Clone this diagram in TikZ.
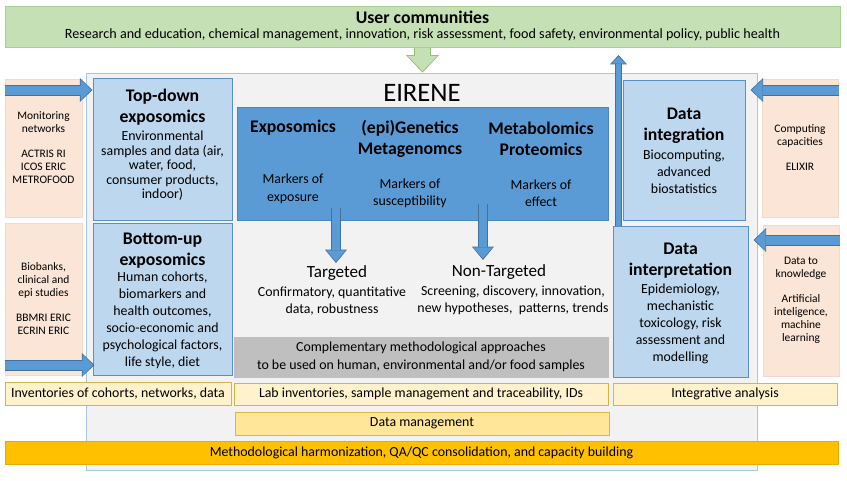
\documentclass[tikz,border=0pt]{standalone}
\usepackage{fontspec}
\setmainfont{Carlito}
\usetikzlibrary{fit,arrows.meta,calc}
\definecolor{ugreen}{HTML}{C5E0B4}
\definecolor{ugreenD}{HTML}{A9D18E}
\definecolor{ugreenA}{HTML}{8FBF72}
\definecolor{peach}{HTML}{FBE5D6}
\definecolor{peachD}{HTML}{F1DACB}
\definecolor{lblue}{HTML}{BDD7EE}
\definecolor{lblueD}{HTML}{5B8FC9}
\definecolor{mblue}{HTML}{5B9BD5}
\definecolor{mblueD}{HTML}{4A86C2}
\definecolor{arrowD}{HTML}{41719C}
\definecolor{egray}{HTML}{F2F2F2}
\definecolor{eborder}{HTML}{A6C6E6}
\definecolor{cgray}{HTML}{BFBFBF}
\definecolor{ylight}{HTML}{FFF2CC}
\definecolor{ymid}{HTML}{FFE699}
\definecolor{yborder}{HTML}{D9B440}
\definecolor{qaorange}{HTML}{FFC000}
\definecolor{qaorangeD}{HTML}{E6AC00}
\newcommand\fsS{\fontsize{8.6}{9.75}\selectfont}
\newcommand\fsB{\fontsize{10.4}{12.75}\selectfont}
\newcommand\fsT{\fontsize{10.4}{10.9}\selectfont}
\newcommand\fsH{\fontsize{13.3}{15.75}\bfseries\selectfont}
\begin{document}
\begin{tikzpicture}[x=0.75pt,y=-0.75pt,
  box/.style={inner sep=0pt, line width=0.75pt},
  users/.style={box, fill=ugreen, draw=ugreenD},
  ebox/.style={box, fill=egray, draw=eborder},
  peachbox/.style={box, fill=peach, draw=peachD},
  lbox/.style={box, fill=lblue, draw=lblueD},
  dbox/.style={box, fill=mblue, draw=mblueD},
  gbox/.style={box, fill=cgray, draw=cgray},
  ybox/.style={box, fill=ylight, draw=yborder},
  ymbox/.style={box, fill=ymid, draw=yborder},
  obox/.style={box, fill=qaorange, draw=qaorangeD},
  txt/.style={inner sep=0pt, align=center},
  stxt/.style={txt, font=\fsS},
  btxt/.style={txt, font=\fsB},
  harrow/.style={draw=arrowD, line width=8.25pt,
    -{Triangle[width=18pt,length=9.5pt,line width=0pt]},
    postaction={draw=mblue, line width=6.75pt, shorten >=1.1pt,
      -{Triangle[width=15.75pt,length=7.9pt,line width=0pt]}}},
  uarrow/.style={draw=arrowD, line width=5.25pt,
    -{Triangle[width=12.75pt,length=7pt,line width=0pt]},
    postaction={draw=mblue, line width=3.75pt, shorten >=1.1pt,
      -{Triangle[width=10.5pt,length=5.4pt,line width=0pt]}}},
  darrow/.style={draw=arrowD, line width=7.5pt,
    -{Triangle[width=16.5pt,length=10pt,line width=0pt]},
    postaction={draw=mblue, line width=6pt, shorten >=1.1pt,
      -{Triangle[width=14.25pt,length=8.3pt,line width=0pt]}}},
  garrow/.style={draw=ugreenA, line width=12.75pt,
    -{Triangle[width=24.75pt,length=13pt,line width=0pt]},
    postaction={draw=ugreen, line width=11.25pt, shorten >=1.1pt,
      -{Triangle[width=22.5pt,length=11.4pt,line width=0pt]}}}
]
\useasboundingbox (0,0) rectangle (847,480);
\fill[white] (0,0) rectangle (847,480);

% user communities
\node[users, fit={(5,6)(840,47)}] (users) {};
\node[txt, font=\fsH] (usersT) at (422.5,17) {User communities};
\node[txt, font=\fontsize{10.6}{12.75}\selectfont] (usersS) at (422.5,35) {Research and education, chemical management, innovation, risk assessment, food safety, environmental policy, public health};

% EIRENE frame
\node[ebox, fit={(86,73)(757,470)}] (eirene) {};
\node[txt, font=\fontsize{20}{24}\selectfont] (eireneT) at (422,93) {EIRENE};

% side boxes
\node[peachbox, fit={(5,79)(82,217)}] (lp1) {};
\node[stxt] (lp1T) at (lp1) {Monitoring\\networks\\[9pt]ACTRIS RI\\ICOS ERIC\\METROFOOD};
\node[peachbox, fit={(5,223)(82,375)}] (lp2) {};
\node[stxt] (lp2T) at (lp2) {Biobanks,\\clinical and\\epi studies\\[9pt]BBMRI ERIC\\ECRIN ERIC};
\node[peachbox, fit={(762,79)(838,217)}] (rp1) {};
\node[stxt] (rp1T) at (rp1) {Computing\\capacities\\[9pt]ELIXIR};
\node[peachbox, fit={(763,225)(839,376)}] (rp2) {};
\node[stxt] (rp2T) at (rp2) {Data to\\knowledge\\[9pt]Artificial\\inteligence,\\machine\\learning};

% top-down / bottom-up
\node[lbox, fit={(93,78)(232,220)}] (td) {};
\node[txt, font=\fsH] (tdT) at (162.5,107.5) {Top-down\\exposomics};
\node[txt, font=\fsT] (tdB) at (162.5,166) {Environmental\\samples and data (air,\\water, food,\\consumer products,\\indoor)};
\node[lbox, fit={(93,223)(232,375)}] (bu) {};
\node[txt, font=\fsH] (buT) at (162.5,250.5) {Bottom-up\\exposomics};
\node[btxt] (buB) at (162.5,320.5) {Human cohorts,\\biomarkers and\\health outcomes,\\socio-economic and\\psychological factors,\\life style, diet};

% omics box
\node[dbox, fit={(237,107)(608,220)}] (omics) {};
\node[txt, font=\fsH] (o1T) at (293,128) {Exposomics};
\node[txt, font=\fsH] (o2T) at (410,138.5) {(epi)Genetics\\Metagenomcs};
\node[txt, font=\fsH] (o3T) at (541,138.5) {Metabolomics\\Proteomics};
\node[txt, font=\fontsize{10.4}{13.5}\selectfont] (o1B) at (293,189) {Markers of\\exposure};
\node[btxt] (o2B) at (410,193.5) {Markers of\\susceptibility};
\node[btxt] (o3B) at (541,193.5) {Markers of\\effect};

% targeted / non-targeted
\node[txt, font=\fontsize{12.8}{15}\selectfont] (tgt) at (337,273) {Targeted};
\node[btxt] (tgtB) at (332,301.5) {Confirmatory, quantitative\\data, robustness};
\node[txt, font=\fontsize{12.8}{15}\selectfont] (ntg) at (499,272) {Non-Targeted};
\node[btxt] (ntgB) at (513,300.5) {Screening, discovery, innovation,\\new hypotheses, \ patterns, trends};

% complementary
\node[gbox, fit={(234,337)(608,377)}] (comp) {};
\node[txt, font=\fontsize{10.4}{13.5}\selectfont] (compT) at (comp) {Complementary methodological approaches\\to be used on human, environmental and/or food samples};

% data integration / interpretation
\node[lbox, fit={(623,80)(745,220)}] (di) {};
\node[txt, font=\fsH] (diT) at (684,125.5) {Data\\integration};
\node[btxt] (diB) at (684,172) {Biocomputing,\\advanced\\biostatistics};
\node[lbox, fit={(613,226)(748,377)}] (dp) {};
\node[txt, font=\fsH] (dpT) at (680.5,260.5) {Data\\interpretation};
\node[btxt] (dpB) at (680.5,324) {Epidemiology,\\mechanistic\\toxicology, risk\\assessment and\\modelling};

% bottom bars
\node[ybox, fit={(5,382)(231,405)}] (inv) {};
\node[btxt] (invT) at (inv) {Inventories of cohorts, networks, data};
\node[ybox, fit={(234,383)(608,405)}] (lab) {};
\node[btxt] (labT) at (lab) {Lab inventories, sample management and traceability, IDs};
\node[ybox, fit={(613,383)(837,405)}] (integ) {};
\node[btxt] (integT) at (integ) {Integrative analysis};
\node[ymbox, fit={(235,412)(609,435)}] (dm) {};
\node[btxt] (dmT) at (dm) {Data management};
\node[obox, fit={(5,441)(838,464)}] (qa) {};
\node[btxt] (qaT) at (qa) {Methodological harmonization, QA/QC consolidation, and capacity building};

% arrows
\draw[garrow] (users.south) -- (users.south |- eirene.north);
\draw[harrow] (lp1.west |- 0,90) -- (td.west |- 0,90);
\draw[harrow] (lp2.west |- 0,365) -- ($(bu.west |- 0,365)+(2,0)$);
\draw[harrow] (rp1.east |- 0,90) -- ($(di.east |- 0,90)+(5,0)$);
\draw[harrow] (rp2.east |- 0,240) -- ($(dp.east |- 0,240)+(5,0)$);
\coordinate (uptip) at (618.5,55);
\draw[uarrow] (uptip |- dp.north) -- (uptip);
\coordinate (d1) at (336,208);
\coordinate (d2) at (483,204);
\draw[darrow] (d1) -- (d1 |- 0,263);
\draw[darrow] (d2) -- (d2 |- 0,260);
\end{tikzpicture}
\end{document}
